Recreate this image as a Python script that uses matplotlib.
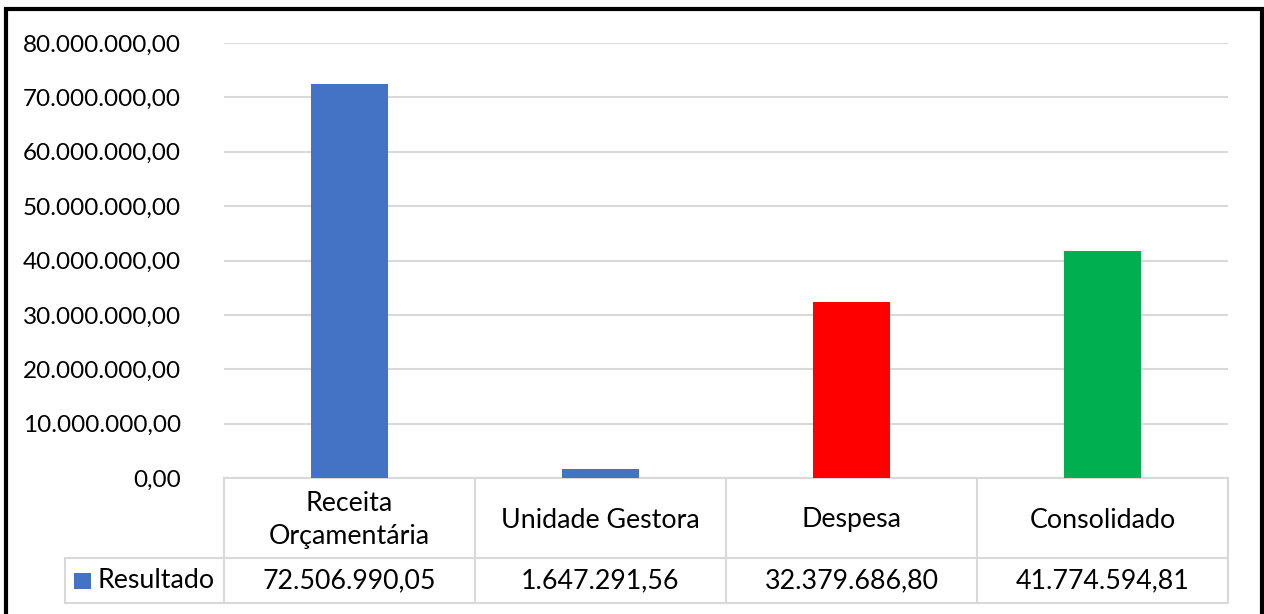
import numpy as np
import matplotlib
matplotlib.use("Agg")
from matplotlib import pyplot as plt
from matplotlib.patches import Rectangle
from matplotlib.transforms import blended_transform_factory

categories = ["Receita\nOrçamentária", "Unidade Gestora", "Despesa", "Consolidado"]
values = [72506990.05, 1647291.56, 32379686.80, 41774594.81]
value_labels = ["72.506.990,05", "1.647.291,56", "32.379.686,80", "41.774.594,81"]
bar_colors = ["#4472C4", "#4472C4", "#FF0000", "#00B050"]
series_name = "Resultado"
yticks = np.arange(0, 80000001, 10000000)

W, H = 1264, 614
FS = 17.5
FS_TAB = 19.3
plt.rcParams["font.family"] = ["Lato", "DejaVu Sans"]

fig = plt.figure(figsize=(W / 100, H / 100), dpi=100)
ax = fig.add_axes([224 / W, 1 - 478 / H, (1228 - 224) / W, (478 - 43) / H])

x = np.arange(len(categories))
ax.bar(x, values, width=0.31, color=bar_colors, zorder=3)
ax.set_xlim(-0.5, len(categories) - 0.5)
ax.set_ylim(0, 80000000)
ax.set_yticks(yticks)
ax.set_yticklabels([f"{v:,.2f}".replace(",", "X").replace(".", ",").replace("X", ".") for v in yticks])
ax.tick_params(axis="y", length=0, pad=31, labelsize=FS, colors="#000000")
ax.set_xticks([])
ax.grid(axis="y", color="#D9D9D9", linewidth=1.5, zorder=0)
for s in ax.spines.values():
    s.set_visible(False)

# data table below the plot
grid_c = "#D9D9D9"
px = lambda v: v / (478 - 43)  # pixels -> axes fraction (vertical)
tr = blended_transform_factory(ax.transData, ax.transAxes)
row1, row2 = -px(80), -px(125)
edges = np.arange(len(categories) + 1) - 0.5
leg_left = -0.5 - (224 - 65) / ((1228 - 224) / len(categories))
ax.plot([edges[0], edges[-1]], [0, 0], color=grid_c, lw=1.5, transform=tr, clip_on=False)
ax.plot([leg_left, edges[-1]], [row1, row1], color=grid_c, lw=1.5, transform=tr, clip_on=False)
ax.plot([leg_left, edges[-1]], [row2, row2], color=grid_c, lw=1.5, transform=tr, clip_on=False)
for e in edges:
    ax.plot([e, e], [0, row2], color=grid_c, lw=1.5, transform=tr, clip_on=False)
ax.plot([leg_left, leg_left], [row1, row2], color=grid_c, lw=1.5, transform=tr, clip_on=False)

for i, (c, v) in enumerate(zip(categories, value_labels)):
    ax.text(i, row1 / 2 - px(2), c, transform=tr, ha="center", va="center", fontsize=FS_TAB, linespacing=1.4)
    ax.text(i, (row1 + row2) / 2, v, transform=tr, ha="center", va="center", fontsize=FS_TAB)

cw = 1 / ((1228 - 224) / len(categories))
ax.add_patch(Rectangle((leg_left + 9 * cw, (row1 + row2) / 2 - px(8)), 17 * cw, px(16),
                       facecolor=bar_colors[0], transform=tr, clip_on=False))
ax.text(leg_left + 33 * cw, (row1 + row2) / 2, series_name, transform=tr, ha="left", va="center", fontsize=FS_TAB)

# outer chart frame
fig.patches.append(Rectangle((6 / W, -0.05), (1256) / W, 1 - 9 / H + 0.05, transform=fig.transFigure,
                             fill=False, edgecolor="black", linewidth=3))

fig.savefig("out.png", dpi=100)
